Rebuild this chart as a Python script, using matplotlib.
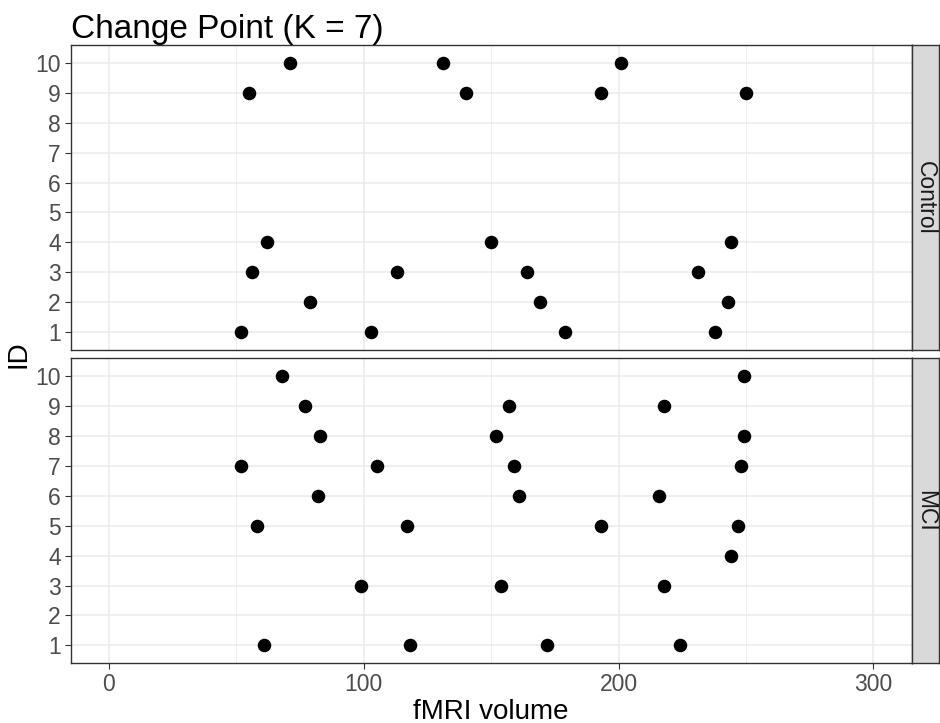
import numpy as np
import matplotlib
matplotlib.use('Agg')
import matplotlib.pyplot as plt

plt.rcParams['font.family'] = ['Liberation Sans', 'DejaVu Sans']

# Change points per subject (fMRI volume)
control_id = [10, 10, 10,
              9, 9, 9, 9,
              4, 4, 4,
              3, 3, 3, 3,
              2, 2, 2,
              1, 1, 1, 1]
control_vol = [71, 131, 201,
               55, 140, 193, 250,
               62, 150, 244,
               56, 113, 164, 231,
               79, 169, 243,
               52, 103, 179, 238]

mci_id = [10, 10,
          9, 9, 9,
          8, 8, 8,
          7, 7, 7, 7,
          6, 6, 6,
          5, 5, 5, 5,
          4,
          3, 3, 3,
          1, 1, 1, 1]
mci_vol = [68, 249,
           77, 157, 218,
           83, 152, 249,
           52, 105, 159, 248,
           82, 161, 216,
           58, 117, 193, 247,
           244,
           99, 154, 218,
           61, 118, 172, 224]

panels = ['Control', 'MCI']
ids = list(range(1, 11))
x_ticks = [0, 100, 200, 300]
x_minor = [50, 150, 250]

W, H = 940, 723
fig = plt.figure(figsize=(W / 100, H / 100), dpi=100)

left, right = 70.7, 911.7
tops = [45, 358.3]
ph = 305
strip_w = 27.5

data = [(control_id, control_vol), (mci_id, mci_vol)]
for k, (name, (yid, xv)) in enumerate(zip(panels, data)):
    top = tops[k]
    ax = fig.add_axes([left / W, (H - top - ph) / H, (right - left) / W, ph / H])
    ax.set_xlim(-15, 315)
    ax.set_ylim(0.4, 10.6)
    ax.set_xticks(x_ticks)
    ax.set_xticks(x_minor, minor=True)
    ax.set_yticks(ids)
    ax.set_yticklabels([str(i) for i in ids])
    ax.grid(True, which='major', color='#EBEBEB', linewidth=1.1)
    ax.grid(True, which='minor', axis='x', color='#EBEBEB', linewidth=0.6)
    ax.set_axisbelow(True)
    ax.scatter(xv, yid, s=95, color='black', zorder=3, linewidths=0)
    for sp in ax.spines.values():
        sp.set_color('#333333')
        sp.set_linewidth(1.0)
    ax.tick_params(axis='both', which='major', length=4, width=0.8, color='#333333',
                   labelsize=16.5, labelcolor='#4D4D4D', pad=3)
    ax.tick_params(axis='x', which='minor', length=0)
    if k == 0:
        ax.tick_params(axis='x', labelbottom=False, length=0)
        ax.set_title('Change Point (K = 7)', loc='left', fontsize=24, pad=4, x=0.0)
    else:
        ax.set_xlabel('fMRI volume', fontsize=20, labelpad=2)

    sax = fig.add_axes([right / W, (H - top - ph) / H, strip_w / W, ph / H])
    sax.set_facecolor('#D9D9D9')
    sax.set_xticks([])
    sax.set_yticks([])
    for sp in sax.spines.values():
        sp.set_color('#333333')
        sp.set_linewidth(1.0)
    sax.text(0.5, 0.5, name, rotation=-90, ha='center', va='center',
             fontsize=16.5, color='#1A1A1A', transform=sax.transAxes)

fig.text(18 / W, 1 - 354 / H, 'ID', rotation=90, ha='center', va='center', fontsize=20)

plt.savefig('out.png', dpi=100)
